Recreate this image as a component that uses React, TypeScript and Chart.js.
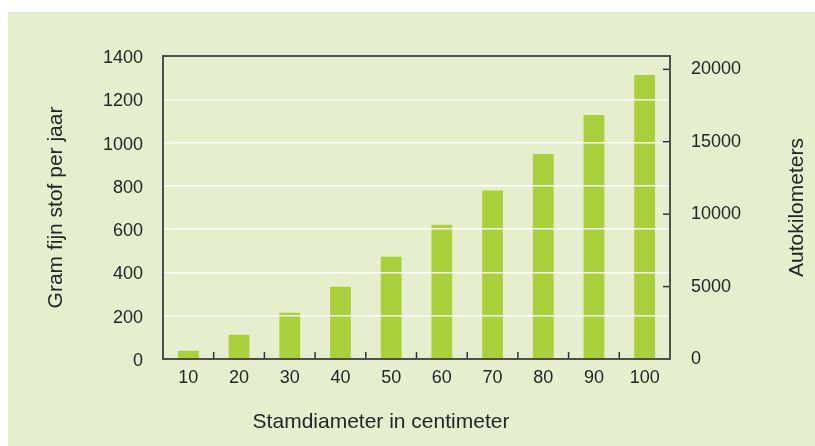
import React, { useEffect, useRef } from "react";
import { Chart, registerables } from "chart.js";

Chart.register(...registerables);

const categories = ["10", "20", "30", "40", "50", "60", "70", "80", "90", "100"];
const gramValues = [38, 112, 214, 334, 472, 620, 778, 947, 1127, 1312];
const leftMax = 1400;
const leftStep = 200;
const rightMax = 20920;
const rightTicks = [0, 5000, 10000, 15000, 20000];
const xTitle = "Stamdiameter in centimeter";
const leftTitle = "Gram fijn stof per jaar";
const rightTitle = "Autokilometers";

const FONT = '"Liberation Sans", Arial, Helvetica, sans-serif';
const TEXT = "#262626";
const FRAME = "#4f4f4f";

const decorPlugin = {
  id: "decor",
  afterDraw(chart: any) {
    const { ctx, chartArea } = chart;
    const { left, right, top, bottom } = chartArea;
    const x = chart.scales.x;
    const y2 = chart.scales.y2;
    ctx.save();
    ctx.strokeStyle = "#333";
    ctx.lineWidth = 1.5;
    for (let i = 1; i < categories.length; i++) {
      const px = (x.getPixelForValue(i - 1) + x.getPixelForValue(i)) / 2;
      ctx.beginPath();
      ctx.moveTo(px, bottom);
      ctx.lineTo(px, bottom - 7);
      ctx.stroke();
    }
    for (const v of rightTicks) {
      const py = y2.getPixelForValue(v);
      ctx.beginPath();
      ctx.moveTo(right, py);
      ctx.lineTo(right - 7, py);
      ctx.stroke();
    }
    ctx.strokeStyle = FRAME;
    ctx.lineWidth = 2;
    ctx.strokeRect(left, top, right - left, bottom - top);
    ctx.fillStyle = TEXT;
    ctx.font = `21px ${FONT}`;
    ctx.textAlign = "center";
    ctx.textBaseline = "middle";
    const cy = (top + bottom) / 2;
    ctx.save();
    ctx.translate(left - 107, cy);
    ctx.rotate(-Math.PI / 2);
    ctx.fillText(leftTitle, 0, 0);
    ctx.restore();
    ctx.save();
    ctx.translate(right + 127, cy);
    ctx.rotate(-Math.PI / 2);
    ctx.fillText(rightTitle, 0, 0);
    ctx.restore();
    ctx.fillText(xTitle, left + 218, bottom + 63);
    ctx.restore();
  },
};

export default function App() {
  const ref = useRef<HTMLCanvasElement>(null);
  useEffect(() => {
    if (!ref.current) return;
    const chart = new Chart(ref.current, {
      type: "bar",
      data: {
        labels: categories,
        datasets: [
          {
            data: gramValues,
            backgroundColor: "#a9cf3b",
            borderWidth: 0,
            barPercentage: 0.41,
            categoryPercentage: 1,
            yAxisID: "y",
          },
        ],
      },
      options: {
        responsive: false,
        animation: false,
        layout: { padding: { top: 44, left: 0, right: 0, bottom: 0 } },
        plugins: { legend: { display: false }, tooltip: { enabled: false } },
        scales: {
          x: {
            grid: { display: false, drawTicks: false },
            border: { display: false },
            ticks: {
              color: TEXT,
              font: { family: FONT, size: 18 },
              padding: 8,
              maxRotation: 0,
            },
            afterFit: (s: any) => {
              s.height = 87;
            },
          },
          y: {
            position: "left",
            min: 0,
            max: leftMax,
            grid: {
              color: "rgba(255,255,255,0.9)",
              lineWidth: 1.5,
              drawTicks: false,
              z: 1,
            },
            border: { display: false },
            ticks: {
              stepSize: leftStep,
              color: TEXT,
              font: { family: FONT, size: 18 },
              padding: 20,
              labelOffset: 2,
              callback: (v: any) => String(v),
            },
            afterFit: (s: any) => {
              s.width = 155;
            },
          },
          y2: {
            position: "right",
            min: 0,
            max: rightMax,
            grid: { display: false, drawOnChartArea: false, drawTicks: false },
            border: { display: false },
            afterBuildTicks: (s: any) => {
              s.ticks = rightTicks.map((v) => ({ value: v }));
            },
            ticks: {
              color: TEXT,
              font: { family: FONT, size: 18 },
              padding: 21,
              callback: (v: any) => String(v),
            },
            afterFit: (s: any) => {
              s.width = 145;
            },
          },
        },
      },
      plugins: [decorPlugin],
    });
    return () => chart.destroy();
  }, []);
  return (
    <div
      style={{
        position: "absolute",
        left: 8,
        top: 12,
        width: 807,
        height: 434,
        background: "#e5efcd",
      }}
    >
      <canvas ref={ref} width={807} height={434} style={{ display: "block" }} />
    </div>
  );
}
